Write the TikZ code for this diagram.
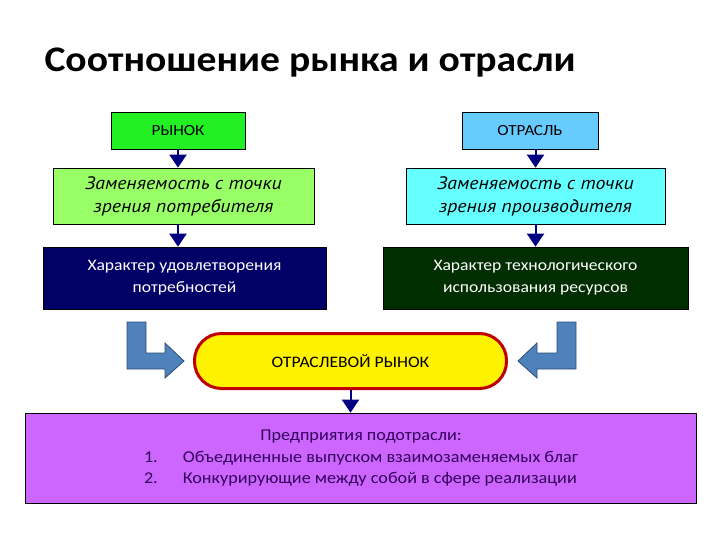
\documentclass[tikz,border=0pt]{standalone}
\usepackage{fontspec}
\setmainfont{Carlito}[FakeStretch=1.1]
\newfontfamily\ptsans{PT Sans}[FakeStretch=1.1]
\usetikzlibrary{arrows.meta}
\definecolor{rynokgreen}{HTML}{22F022}
\definecolor{zamgreen}{HTML}{99FF66}
\definecolor{otraslblue}{HTML}{66CCFF}
\definecolor{zamcyan}{HTML}{66FFFF}
\definecolor{harnavy}{HTML}{000066}
\definecolor{hargreen}{HTML}{002E00}
\definecolor{borderred}{HTML}{C00000}
\definecolor{podpurple}{HTML}{CC66FF}
\definecolor{podtext}{HTML}{33005A}
\definecolor{bentblue}{HTML}{4F81BD}
\definecolor{bentdark}{HTML}{2C4D75}
\definecolor{linknavy}{HTML}{000080}
\tikzset{box/.style={draw=black, line width=0.7pt, inner sep=2pt, align=center}}
\tikzset{link/.style={draw=linknavy, line width=2pt, -{Triangle[width=17pt,length=13pt]}}}
\tikzset{bent/.style={fill=bentblue, draw=bentdark, line width=0.8pt}}

\begin{document}
\begin{tikzpicture}[x=1pt,y=-1pt]
        \useasboundingbox (0,0) rectangle (720,540);
        \node[anchor=west, font=\fontsize{36}{40}\selectfont\bfseries] (title) at (41,63) {Соотношение рынка и отрасли};
        % top row
        \node[box, fill=rynokgreen, minimum width=134pt, minimum height=37pt, font=\fontsize{15.5}{18}\selectfont] (rynok) at (178,130.5) {РЫНОК};
        \node[box, fill=otraslblue, minimum width=136pt, minimum height=37pt, font=\fontsize{15.5}{18}\selectfont] (otrasl) at (530,130.5) {ОТРАСЛЬ};
        % substitutability
        \node[box, fill=zamgreen, minimum width=261pt, minimum height=56pt, font=\fontsize{18}{23}\selectfont\ptsans\itshape] (zamL) at (183.5,196) {Заменяемость с точки\\зрения потребителя};
        \node[box, fill=zamcyan, minimum width=259pt, minimum height=56pt, font=\fontsize{18}{23}\selectfont\ptsans\itshape] (zamR) at (535.5,196) {Заменяемость с точки\\зрения производителя};
        % character boxes
        \node[box, fill=harnavy, text=white, minimum width=283pt, minimum height=62pt, font=\fontsize{16}{22}\selectfont] (harL) at (184.5,278) {Характер удовлетворения\\потребностей};
        \node[box, fill=hargreen, text=white, minimum width=305pt, minimum height=62pt, font=\fontsize{16}{22}\selectfont] (harR) at (535.5,278) {Характер технологического\\использования ресурсов};
        % industry market
        \node[box, draw=borderred, line width=3pt, fill=yellow, rounded corners=27pt, minimum width=312pt, minimum height=55pt, font=\fontsize{16}{18}\selectfont] (otrRynok) at (350.5,361) {ОТРАСЛЕВОЙ РЫНОК};
        \node[box, fill=podpurple, text=podtext, minimum width=671pt, minimum height=90pt, font=\fontsize{16.5}{21.5}\selectfont] (podotr) at (361,458)
            {\begin{tabular}{@{}l@{\hspace{25pt}}l@{}}
             \multicolumn{2}{c}{Предприятия подотрасли:}\\
             1. & Объединенные выпуском взаимозаменяемых благ\\
             2. & Конкурирующие между собой в сфере реализации
             \end{tabular}};
        % small arrows
        \draw[link] (rynok.south) -- (rynok.south |- zamL.north);
        \draw[link] (rynok.south |- zamL.south) -- (rynok.south |- harL.north);
        \draw[link] (zamR.north |- otrasl.south) -- (zamR.north);
        \draw[link] (zamR.south) -- (harR.north);
        \draw[link] (otrRynok.south) -- (otrRynok.south |- podotr.north);
        % bent arrows
        \draw[bent] (127,322) -- (146,322) -- (146,353) -- (165,353) -- (165,343) -- (184,361)
            -- (165,378) -- (165,369) -- (127,369) -- cycle;
        \draw[bent] (576,322) -- (557,322) -- (557,353) -- (537,353) -- (537,343) -- (518,361)
            -- (537,378) -- (537,369) -- (576,369) -- cycle;
\end{tikzpicture}
\end{document}
